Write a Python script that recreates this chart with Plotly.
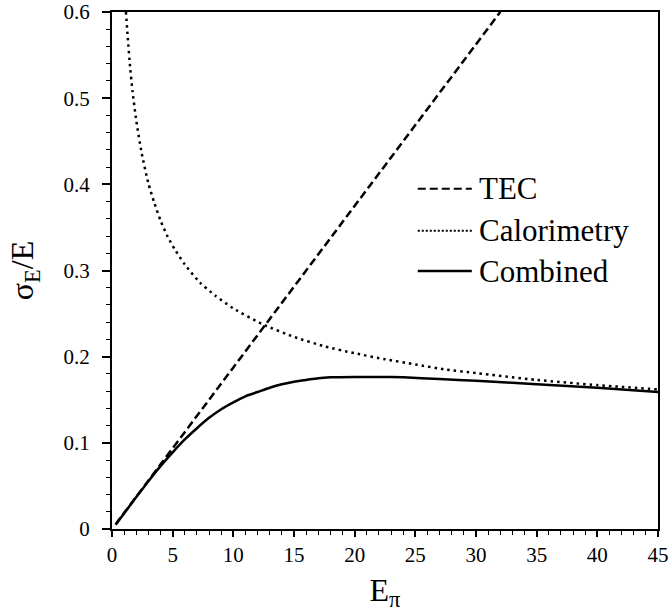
import plotly.graph_objects as go

# Data
tec_x = [0.3, 10.0, 20.0, 32.0]
tec_y = [0.0056, 0.1875, 0.375, 0.6]

cal_x = [1.15, 1.3, 1.5, 1.7, 2.0, 2.45, 3.0, 3.5, 4.0, 4.6, 5.2, 6.0, 7.25, 8.5, 10.0,
         12.5, 15.0, 17.5, 20.0, 22.5, 25.0, 27.5, 30.0, 35.0, 40.0, 45.0]
cal_y = [0.600, 0.570, 0.535, 0.507, 0.474, 0.436, 0.401, 0.378, 0.358, 0.339, 0.324,
         0.307, 0.286, 0.271, 0.256, 0.237, 0.223, 0.212, 0.204, 0.197, 0.191, 0.185,
         0.181, 0.173, 0.167, 0.162]

comb_x = [0.3, 2.0, 3.0, 4.0, 5.0, 6.0, 7.0, 8.0, 9.0, 10.0, 11.0, 12.0, 13.0, 14.0,
          15.0, 16.0, 17.0, 18.0, 20.0, 22.0, 24.0, 27.0, 30.0, 35.0, 40.0, 45.0]
comb_y = [0.005, 0.037, 0.0555, 0.073, 0.089, 0.104, 0.117, 0.129, 0.139, 0.147, 0.154,
          0.159, 0.164, 0.168, 0.171, 0.173, 0.175, 0.176, 0.1765, 0.1765, 0.176, 0.174,
          0.172, 0.168, 0.164, 0.159]

series_names = ["TEC", "Calorimetry", "Combined"]
series_dash = ["8px,4px", "2.5px,4px", "solid"]

x_ticks = [0, 5, 10, 15, 20, 25, 30, 35, 40, 45]
y_ticks = [0, 0.1, 0.2, 0.3, 0.4, 0.5, 0.6]
y_tick_text = ["0", "0.1", "0.2", "0.3", "0.4", "0.5", "0.6"]

FONT = "Liberation Serif"

fig = go.Figure()
fig.add_trace(go.Scatter(x=tec_x, y=tec_y, mode="lines", name=series_names[0],
                         showlegend=False,
                         line=dict(color="black", width=2.5, dash=series_dash[0])))
fig.add_trace(go.Scatter(x=cal_x, y=cal_y, mode="lines", name=series_names[1],
                         showlegend=False,
                         line=dict(color="black", width=2.5, dash=series_dash[1],
                                   shape="spline", smoothing=0.6)))
fig.add_trace(go.Scatter(x=comb_x, y=comb_y, mode="lines", name=series_names[2],
                         showlegend=False,
                         line=dict(color="black", width=2.5, dash=series_dash[2],
                                   shape="spline", smoothing=0.6)))

# Legend drawn as paper-positioned sample lines + text
leg_x0, leg_x1, leg_tx = 0.56, 0.659, 0.668
leg_rows = [0.658, 0.577, 0.499]
for name, dash, yy in zip(series_names, series_dash, leg_rows):
    fig.add_shape(type="line", xref="paper", yref="paper", x0=leg_x0, x1=leg_x1, y0=yy, y1=yy,
                  line=dict(color="black", width=2 if dash != "solid" else 2.5,
                            dash="2px,2px" if dash.startswith("2.5") else dash))
    fig.add_annotation(xref="paper", yref="paper", x=leg_tx, y=yy, text=name,
                       xanchor="left", yanchor="middle", showarrow=False,
                       font=dict(family=FONT, size=31, color="black"))

fig.update_layout(
    width=672, height=616,
    margin=dict(l=112, r=14, t=12, b=87, autoexpand=False),
    paper_bgcolor="white", plot_bgcolor="white",
    font=dict(family=FONT, color="black", size=20),
    showlegend=False,
)
fig.update_xaxes(
    range=[0, 45], tickvals=x_ticks, ticktext=[str(v) for v in x_ticks], automargin=False,
    showgrid=False, zeroline=False, showline=True, linecolor="black", linewidth=2,
    mirror=True, ticks="outside", ticklen=6, tickwidth=1.5, tickcolor="black",
    tickfont=dict(family=FONT, size=21),
    minor=dict(dtick=1, ticks="outside", ticklen=4, tickwidth=1, tickcolor="black", showgrid=False),
    title=dict(text="E<sub>π</sub>", font=dict(family=FONT, size=32), standoff=12),
)
fig.update_yaxes(
    range=[0, 0.6], tickvals=y_ticks, ticktext=y_tick_text, automargin=False,
    showgrid=False, zeroline=False, showline=True, linecolor="black", linewidth=2,
    mirror=True, ticks="outside", ticklen=8, tickwidth=1.5, tickcolor="black",
    tickfont=dict(family=FONT, size=21), ticklabelstandoff=8,
    minor=dict(dtick=0.02, ticks="outside", ticklen=4, tickwidth=1, tickcolor="black", showgrid=False),
    title=dict(text="σ<sub>E</sub>/E", font=dict(family=FONT, size=32), standoff=20),
)

fig.write_html("out.html")
